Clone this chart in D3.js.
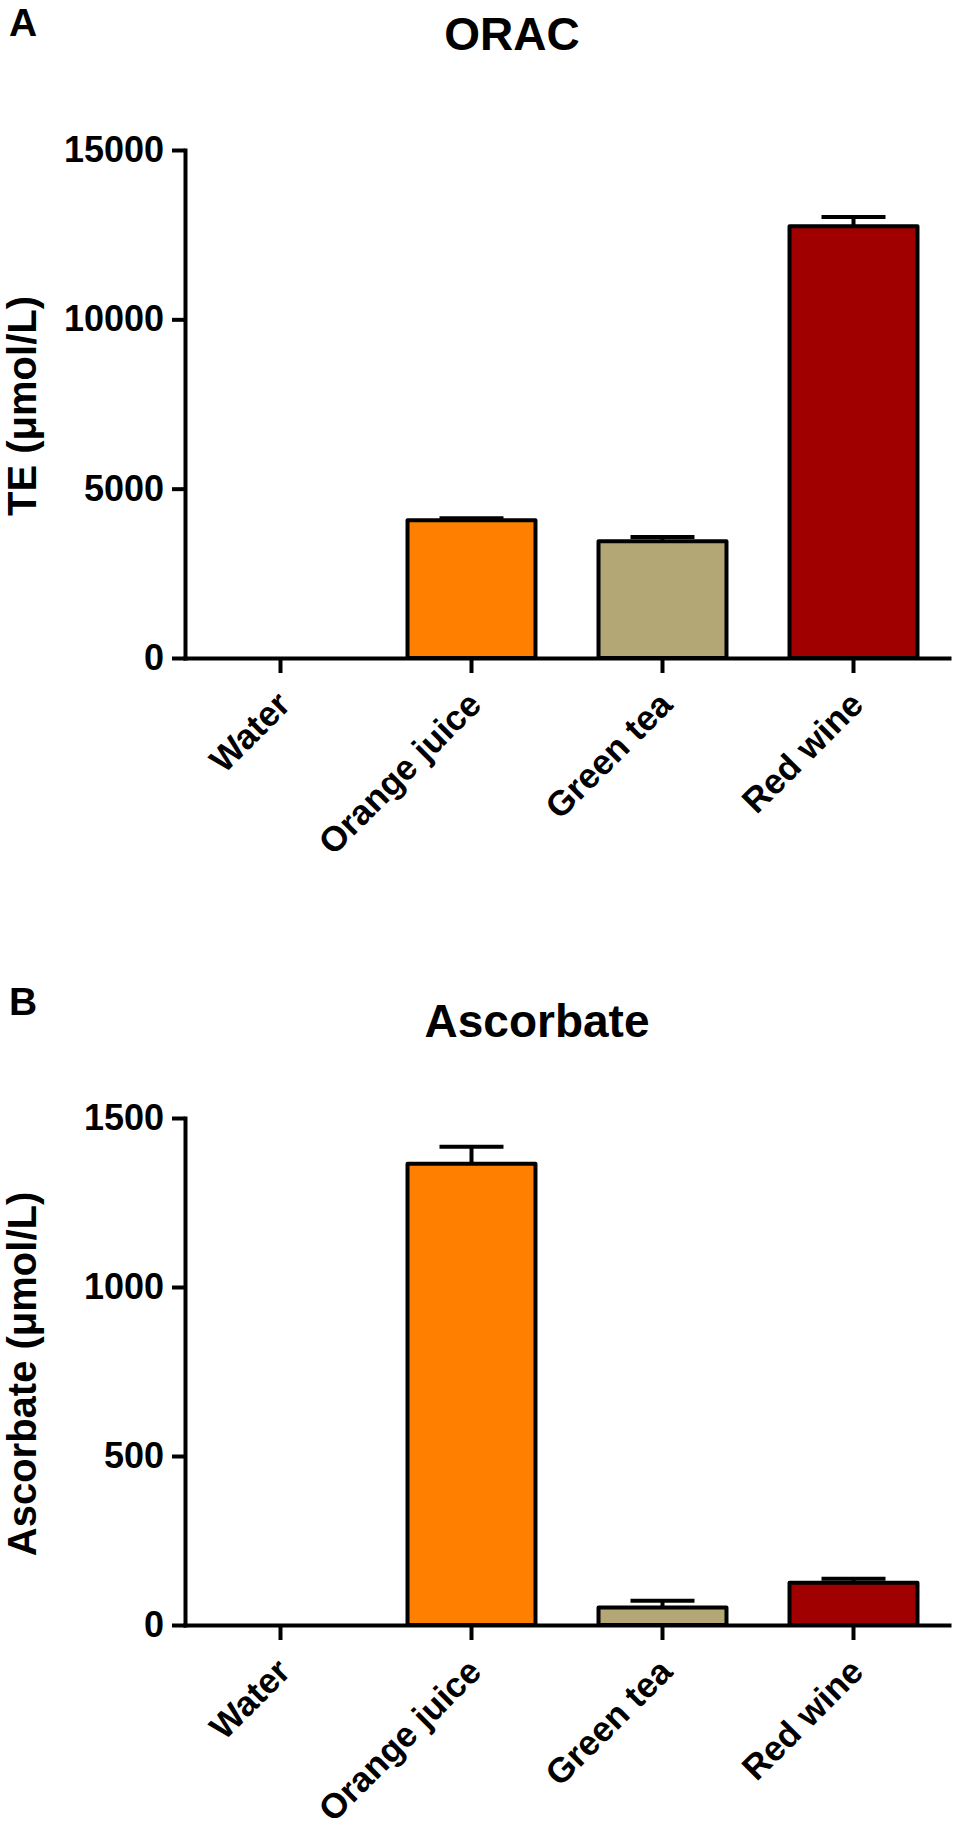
<!DOCTYPE html>
<html>
<head>
<meta charset="utf-8">
<script src="https://cdn.jsdelivr.net/npm/d3@7"></script>
<style>
  html, body { margin: 0; padding: 0; background: #ffffff; }
  svg { display: block; }
  text { font-family: "Liberation Sans", Arial, Helvetica, sans-serif; font-weight: bold; fill: #000; }
</style>
</head>
<body>
<script>
// ---- data ----
const categories = ["Water", "Orange juice", "Green tea", "Red wine"];
const barColors = ["#ffffff", "#ff8000", "#b3a775", "#a00000"];

const oracMean = [0, 4070, 3450, 12750];
const oracErr  = [0, 60, 120, 270];
const oracTicks = [0, 5000, 10000, 15000];

const ascMean = [0, 1365, 52, 125];
const ascErr  = [0, 50, 20, 12];
const ascTicks = [0, 500, 1000, 1500];

// ---- layout ----
const W = 954, H = 1837;
const svg = d3.select("body").append("svg").attr("width", W).attr("height", H);
const FONT = "'Liberation Sans', Arial, Helvetica, sans-serif";

function panel(opts) {
  const g = svg.append("g");
  const x = d3.scaleBand().domain(categories).range([185, 949]).paddingInner(0.33).paddingOuter(0.165);
  const y = d3.scaleLinear().domain([0, opts.max]).range([opts.y0, opts.y1]);

  // panel letter & title
  g.append("text").attr("x", 9).attr("y", opts.letterY).style("font-size", "39px").text(opts.letter);
  g.append("text").attr("x", opts.titleX).attr("y", opts.titleY).attr("text-anchor", "middle")
    .style("font-size", "46px").text(opts.title);

  // bars
  const data = categories.map((c, i) => ({ c, v: opts.mean[i], e: opts.err[i], col: barColors[i] }));
  g.selectAll("rect.bar").data(data.filter(d => d.v > 0)).enter().append("rect")
    .attr("class", "bar")
    .attr("x", d => x(d.c))
    .attr("y", d => y(d.v))
    .attr("width", x.bandwidth())
    .attr("height", d => y(0) - y(d.v))
    .attr("fill", d => d.col)
    .attr("stroke", "#000").attr("stroke-width", 4).attr("stroke-linejoin", "round");

  // error bars (upper only)
  const eb = g.selectAll("g.err").data(data.filter(d => d.e > 0)).enter().append("g").attr("class", "err");
  eb.append("line")
    .attr("x1", d => x(d.c) + x.bandwidth() / 2).attr("x2", d => x(d.c) + x.bandwidth() / 2)
    .attr("y1", d => y(d.v)).attr("y2", d => y(d.v + d.e))
    .attr("stroke", "#000").attr("stroke-width", 4);
  eb.append("line")
    .attr("x1", d => x(d.c) + x.bandwidth() / 4).attr("x2", d => x(d.c) + x.bandwidth() * 3 / 4)
    .attr("y1", d => y(d.v + d.e)).attr("y2", d => y(d.v + d.e))
    .attr("stroke", "#000").attr("stroke-width", 4);

  // y axis
  const ya = g.append("g").attr("transform", "translate(185,0)")
    .call(d3.axisLeft(y).tickValues(opts.ticks).tickSize(13).tickSizeOuter(0).tickPadding(8).tickFormat(d3.format("d")));
  ya.select(".domain").attr("stroke-width", 4).attr("stroke-linecap", "square");
  ya.selectAll(".tick line").attr("stroke-width", 4);
  ya.selectAll(".tick text").style("font-size", "36px").style("font-family", FONT).style("font-weight", "bold");

  // x axis
  const xa = g.append("g").attr("transform", `translate(0,${opts.y0})`)
    .call(d3.axisBottom(x).tickSize(15).tickSizeOuter(0).tickPadding(6));
  xa.select(".domain").attr("stroke-width", 4).attr("stroke-linecap", "square");
  xa.selectAll(".tick line").attr("stroke-width", 4);
  xa.selectAll(".tick text")
    .style("font-size", "35px").style("font-family", FONT).style("font-weight", "bold")
    .attr("text-anchor", "end")
    .attr("dy", "0.35em")
    .attr("transform", "translate(3,40) rotate(-45)")
    .attr("y", 0).attr("x", 0);

  // y axis title
  g.append("text")
    .attr("transform", `translate(36,${opts.labelY}) rotate(-90)`)
    .attr("text-anchor", "middle").style("font-size", "40px").text(opts.ylabel);
}

panel({ letter: "A", letterY: 36, title: "ORAC", titleX: 512, titleY: 50, labelY: 406,
        y0: 658, y1: 150, max: 15000, ticks: oracTicks, mean: oracMean, err: oracErr, ylabel: "TE (\u03bcmol/L)" });
panel({ letter: "B", letterY: 1015, title: "Ascorbate", titleX: 537, titleY: 1037, labelY: 1374,
        y0: 1625, y1: 1118, max: 1500, ticks: ascTicks, mean: ascMean, err: ascErr, ylabel: "Ascorbate (\u03bcmol/L)" });
</script>
</body>
</html>
